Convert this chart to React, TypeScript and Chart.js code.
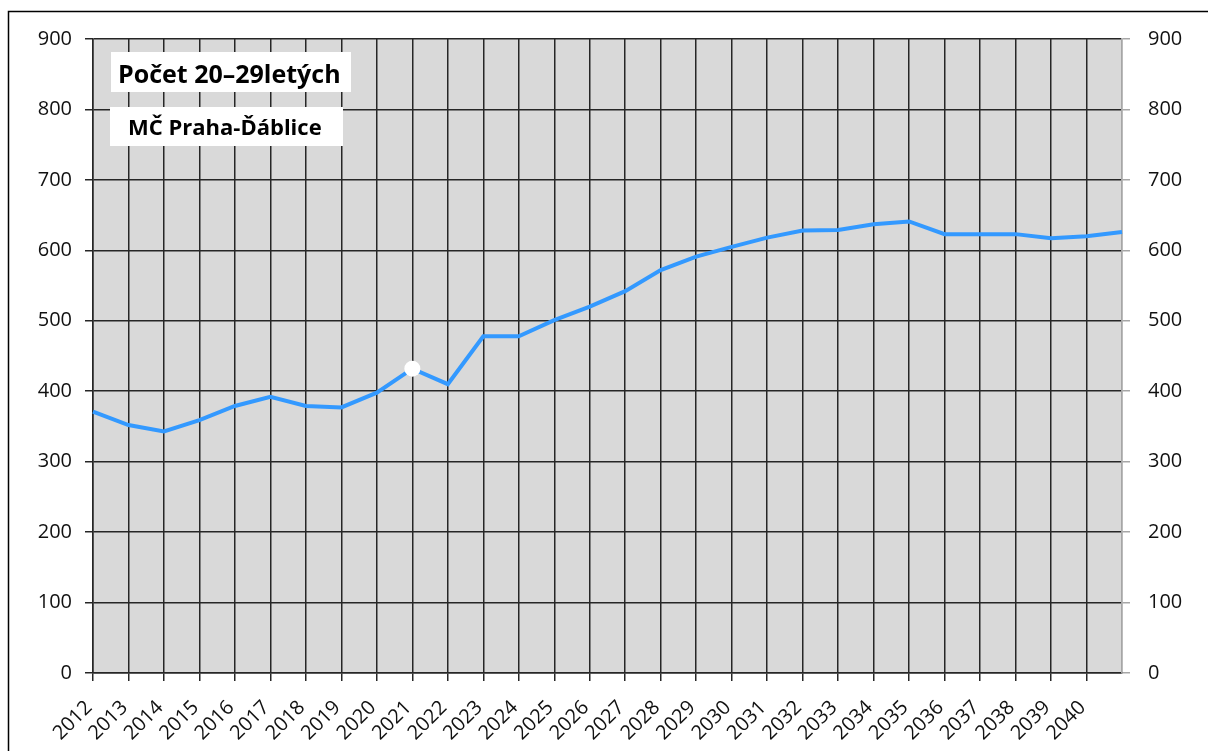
import { useEffect, useRef } from 'react';
import { Chart, registerables } from 'chart.js';

Chart.register(...registerables);

// ---- data ----
const years = [
  '2012', '2013', '2014', '2015', '2016', '2017', '2018', '2019', '2020', '2021',
  '2022', '2023', '2024', '2025', '2026', '2027', '2028', '2029', '2030', '2031',
  '2032', '2033', '2034', '2035', '2036', '2037', '2038', '2039', '2040', '2041',
];
const population = [
  371, 352, 343, 359, 379, 392, 379, 377, 398, 432,
  410, 478, 478, 501, 520, 542, 572, 591, 605, 618,
  628, 629, 637, 641, 623, 623, 623, 617, 620, 626,
];
const highlightYear = '2021';
const yMin = 0;
const yMax = 900;
const yStep = 100;
const titleLine1 = 'Počet 20–29letých';
const titleLine2 = 'MČ Praha-Ďáblice';

const FONT = "'Open Sans', 'Noto Sans', 'DejaVu Sans', sans-serif";

export default function App() {
  const ref = useRef<HTMLCanvasElement>(null);

  useEffect(() => {
    const last = years.length - 1;
    const dark = '#262626';
    const gray = '#a6a6a6';

    const decor = {
      id: 'decor',
      beforeDraw(chart: any) {
        const { ctx, chartArea } = chart;
        ctx.save();
        ctx.fillStyle = '#d9d9d9';
        ctx.fillRect(chartArea.left, chartArea.top, chartArea.right - chartArea.left, chartArea.bottom - chartArea.top);
        ctx.strokeStyle = '#000';
        ctx.lineWidth = 1.5;
        ctx.beginPath();
        ctx.moveTo(8.5, chart.height);
        ctx.lineTo(8.5, 11.5);
        ctx.lineTo(chart.width, 11.5);
        ctx.stroke();
        ctx.restore();
      },
      afterDraw(chart: any) {
        const { ctx, chartArea } = chart;
        const l = chartArea.left;
        const t = chartArea.top;
        ctx.save();
        ctx.fillStyle = '#fff';
        ctx.fillRect(l + 18, t + 13, 240, 40);
        ctx.fillRect(l + 17, t + 68, 233, 39);
        ctx.fillStyle = '#000';
        ctx.textBaseline = 'alphabetic';
        ctx.textAlign = 'left';
        ctx.font = `bold 25px ${FONT}`;
        ctx.fillText(titleLine1, l + 25, t + 44);
        ctx.font = `bold 22px ${FONT}`;
        ctx.fillText(titleLine2, l + 35, t + 96);
        ctx.restore();
      },
    };

    const tickFont = { family: FONT, size: 20 };

    const chart = new Chart(ref.current!, {
      type: 'line',
      data: {
        labels: years,
        datasets: [
          {
            data: population,
            borderColor: '#3399ff',
            borderWidth: 4,
            tension: 0,
            pointRadius: (c: any) => (years[c.dataIndex] === highlightYear ? 8 : 0),
            pointHoverRadius: 0,
            pointBackgroundColor: '#ffffff',
            pointBorderColor: '#ffffff',
            pointBorderWidth: 0,
            yAxisID: 'y',
          },
        ],
      },
      options: {
        responsive: false,
        animation: false,
        devicePixelRatio: 1,
        layout: { padding: { top: 39, left: 0, right: 0, bottom: 0 } },
        plugins: { legend: { display: false }, tooltip: { enabled: false } },
        scales: {
          x: {
            type: 'category',
            offset: false,
            grid: {
              color: (c: any) => (c.index === last ? gray : dark),
              tickColor: (c: any) => (c.index === last ? 'rgba(0,0,0,0)' : dark),
              lineWidth: 1.5,
              tickLength: 8,
            },
            border: { color: dark, width: 1.5 },
            ticks: {
              autoSkip: false,
              minRotation: 45,
              maxRotation: 45,
              padding: 15,
              labelOffset: -4,
              color: '#111',
              font: tickFont,
              callback: (_v: any, i: number) => (i === last ? '' : years[i]),
            },
            afterFit: (s: any) => {
              s.height = 78;
            },
          },
          y: {
            position: 'left',
            min: yMin,
            max: yMax,
            ticks: { stepSize: yStep, padding: 13, color: '#111', font: tickFont },
            grid: { color: dark, lineWidth: 1.5, tickLength: 8 },
            border: { color: dark, width: 1.5 },
            afterFit: (s: any) => {
              s.width = 93;
            },
          },
          y2: {
            position: 'right',
            min: yMin,
            max: yMax,
            ticks: { stepSize: yStep, padding: 18, color: '#111', font: tickFont },
            grid: { drawOnChartArea: false, color: gray, lineWidth: 1.5, tickLength: 8 },
            border: { color: gray, width: 1.5 },
            afterFit: (s: any) => {
              s.width = 86;
            },
          },
        },
      },
      plugins: [decor],
    } as any);

    return () => chart.destroy();
  }, []);

  return (
    <canvas
      ref={ref}
      width={1208}
      height={751}
      style={{ position: 'absolute', left: 0, top: 0, width: 1208, height: 751, display: 'block' }}
    />
  );
}
